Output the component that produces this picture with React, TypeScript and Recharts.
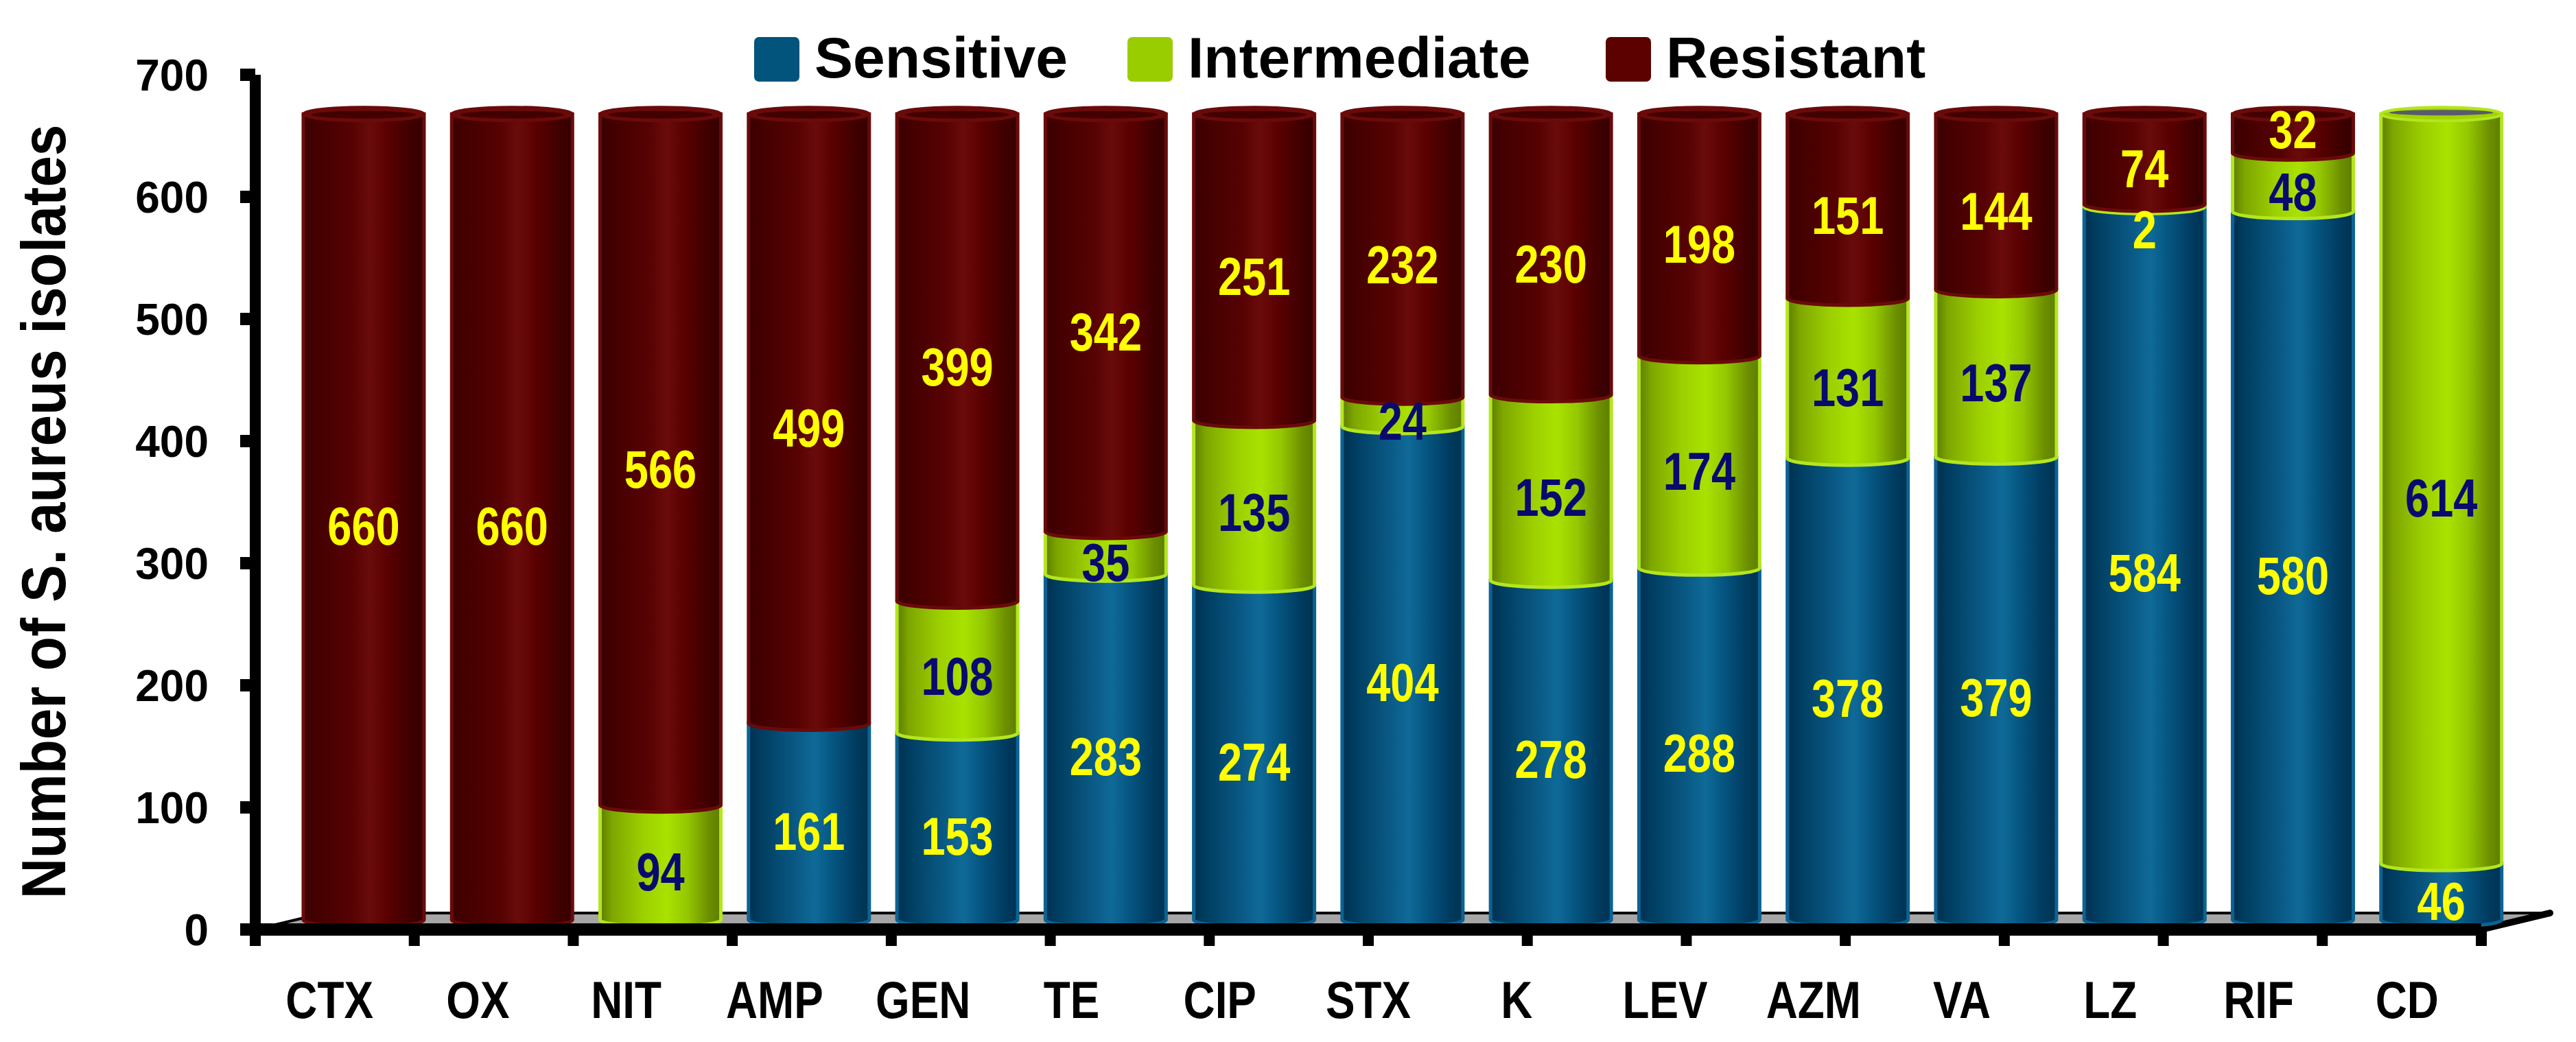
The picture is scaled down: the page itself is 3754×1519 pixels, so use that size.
import React from 'react';
import { BarChart, Bar, XAxis, YAxis, Legend, LabelList, ReferenceLine } from 'recharts';

const categories = ['CTX', 'OX', 'NIT', 'AMP', 'GEN', 'TE', 'CIP', 'STX', 'K', 'LEV', 'AZM', 'VA', 'LZ', 'RIF', 'CD'];
const sensitive = [0, 0, 0, 161, 153, 283, 274, 404, 278, 288, 378, 379, 584, 580, 46];
const intermediate = [0, 0, 94, 0, 108, 35, 135, 24, 152, 174, 131, 137, 2, 48, 614];
const resistant = [660, 660, 566, 499, 399, 342, 251, 232, 230, 198, 151, 144, 74, 32, 0];
const yTicks = [0, 100, 200, 300, 400, 500, 600, 700];
const boundaryTicks = [0, 1, 2, 3, 4, 5, 6, 7, 8, 9, 10, 11, 12, 13, 14, 15];
const seriesNames = ['Sensitive', 'Intermediate', 'Resistant'];

const data = categories.map((name, i) => ({
  name,
  sensitive: sensitive[i],
  intermediate: intermediate[i],
  resistant: resistant[i],
}));

const FONT = "'Liberation Sans', Arial, Helvetica, sans-serif";
const YELLOW = '#FFFF00';
const NAVY = '#0a0a6e';
const DX = 50;
const DY = -14;
const RY = 10;
const FLOOR_DX = 100;
const FLOOR_DY = -24;

const STYLE: Record<string, any> = {
  S: { grad: 'gS', rim: '#0b6393', cap: '#0b6090', inner: '#003a5a', base: '#02547d' },
  I: { grad: 'gI', rim: '#b4e61e', cap: '#9fd400', inner: '#5a5a6c', base: '#9acd00' },
  R: { grad: 'gR', rim: '#6a0a0a', cap: '#6a0a0a', inner: '#420000', base: '#5c0000' },
};

function Cyl(props: any) {
  const { x, y, width: w, height: h, payload, kind } = props;
  if (!(h > 0.01) || !(w > 0)) return <g />;
  const x0 = x + DX;
  const y0 = y + DY;
  const y1 = y + h + DY;
  const rx = w / 2;
  const cx = x0 + rx;
  const isTop =
    kind === 'R'
      ? true
      : kind === 'I'
      ? payload.resistant === 0
      : payload.intermediate === 0 && payload.resistant === 0;
  const st = STYLE[kind];
  const d = `M${x0},${y0} L${x0},${y1} A${rx},${RY} 0 0 0 ${x0 + w},${y1} L${x0 + w},${y0} Z`;
  return (
    <g>
      <path d={d} fill={`url(#${st.grad})`} stroke={st.rim} strokeWidth={5} />
      {isTop && (
        <g>
          <ellipse cx={cx} cy={y0} rx={rx} ry={RY} fill={st.cap} stroke={st.rim} strokeWidth={4} />
          <ellipse
            cx={cx}
            cy={kind === 'I' ? y0 - 2 : y0 + 1}
            rx={rx * 0.86}
            ry={kind === 'I' ? RY * 0.4 : RY * 0.55}
            fill={st.inner}
          />
        </g>
      )}
    </g>
  );
}

function ValLabel(props: any) {
  const vb = props.viewBox || props;
  const { value, kind } = props;
  if (!value) return null;
  const cx = vb.x + vb.width / 2 + DX;
  let cy = vb.y + vb.height / 2;
  // keep labels of very thin neighbouring segments apart
  if (vb.height < 20) cy += 22;
  else if (kind === 'R' && vb.height < 70) cy -= 19;
  const fill = kind === 'I' && value >= 10 ? NAVY : YELLOW;
  return (
    <text
      transform={`translate(${cx},${cy}) scale(0.82,1)`}
      textAnchor="middle"
      dominantBaseline="central"
      fontFamily={FONT}
      fontWeight={700}
      fontSize={77}
      fill={fill}
    >
      {value}
    </text>
  );
}

function CatTick(props: any) {
  const { x, y, payload } = props;
  return (
    <text
      transform={`translate(${x},${y + 128}) scale(0.84,1)`}
      textAnchor="middle"
      fontFamily={FONT}
      fontWeight={700}
      fontSize={76}
      fill="#000"
    >
      {payload.value}
    </text>
  );
}

function NoTick() {
  return <g />;
}

function YTitle(props: any) {
  const vb = props.viewBox || { x: 0, y: 109, width: 372, height: 1246 };
  const cy = vb.y + vb.height / 2 + 14;
  return (
    <text
      transform={`translate(${vb.x + 95},${cy}) rotate(-90) scale(0.91,1)`}
      textAnchor="middle"
      fontFamily={FONT}
      fontWeight={700}
      fontSize={90}
      fill="#000"
    >
      Number of S. aureus isolates
    </text>
  );
}

function Floor(props: any) {
  const { x1, y1, x2 } = props;
  if (x1 == null) return <g />;
  const pts = `${x1},${y1} ${x1 + FLOOR_DX},${y1 + FLOOR_DY} ${x2 + FLOOR_DX},${y1 + FLOOR_DY} ${x2},${y1}`;
  return (
    <g>
      <polygon points={pts} fill="#a6a6a6" stroke="#000" strokeWidth={4} />
      <line x1={x2} y1={y1} x2={x2 + FLOOR_DX} y2={y1 + FLOOR_DY} stroke="#000" strokeWidth={10} strokeLinecap="round" />
    </g>
  );
}

const ITEM_X = [0, 544, 1241];

function LegendContent(props: any) {
  const payload = props.payload || [];
  return (
    <div style={{ position: 'relative', width: 1720, height: 90 }}>
      {payload.map((p: any, i: number) => {
        const pos = seriesNames.indexOf(p.value);
        return (
          <div
            key={i}
            style={{
              position: 'absolute',
              left: ITEM_X[pos < 0 ? i : pos],
              top: 0,
              height: 90,
              display: 'flex',
              alignItems: 'center',
              whiteSpace: 'nowrap',
            }}
          >
            <div style={{ width: 66, height: 65, borderRadius: 7, background: p.color, marginTop: 4 }} />
            <span
              style={{
                marginLeft: 22,
                fontFamily: FONT,
                fontWeight: 700,
                fontSize: 84,
                lineHeight: '90px',
                color: '#000',
              }}
            >
              {p.value}
            </span>
          </div>
        );
      })}
    </div>
  );
}

export default function App() {
  return (
    <div style={{ position: 'absolute', left: 0, top: 0, width: 3754, height: 1519, background: '#fff' }}>
      <BarChart
        width={3754}
        height={1519}
        data={data}
        margin={{ top: 109, right: 138, bottom: 0, left: 0 }}
        barSize={176}
      >
        <defs>
          <linearGradient id="gR" x1="0" y1="0" x2="1" y2="0">
            <stop offset="0%" stopColor="#3a0000" />
            <stop offset="10%" stopColor="#430000" />
            <stop offset="40%" stopColor="#560202" />
            <stop offset="55%" stopColor="#6a0b0b" />
            <stop offset="70%" stopColor="#5a0000" />
            <stop offset="90%" stopColor="#3e0000" />
            <stop offset="100%" stopColor="#350000" />
          </linearGradient>
          <linearGradient id="gS" x1="0" y1="0" x2="1" y2="0">
            <stop offset="0%" stopColor="#003050" />
            <stop offset="10%" stopColor="#003d60" />
            <stop offset="40%" stopColor="#0a5a86" />
            <stop offset="55%" stopColor="#0f6a98" />
            <stop offset="70%" stopColor="#055581" />
            <stop offset="90%" stopColor="#003a5e" />
            <stop offset="100%" stopColor="#003352" />
          </linearGradient>
          <linearGradient id="gI" x1="0" y1="0" x2="1" y2="0">
            <stop offset="0%" stopColor="#5c7d00" />
            <stop offset="10%" stopColor="#7ea600" />
            <stop offset="35%" stopColor="#9ccf00" />
            <stop offset="55%" stopColor="#a9e200" />
            <stop offset="72%" stopColor="#95c800" />
            <stop offset="90%" stopColor="#6c8f00" />
            <stop offset="100%" stopColor="#5e7e00" />
          </linearGradient>
        </defs>
        <XAxis
          xAxisId="cat"
          dataKey="name"
          axisLine={false}
          tickLine={false}
          tickSize={0}
          tickMargin={0}
          height={163}
          interval={0}
          tick={<CatTick />}
        />
        <XAxis
          xAxisId="base"
          type="number"
          domain={[0, 15]}
          ticks={boundaryTicks}
          interval={0}
          tick={<NoTick />}
          tickSize={24}
          height={1}
          axisLine={{ stroke: '#000', strokeWidth: 18 }}
          tickLine={{ stroke: '#000', strokeWidth: 16 }}
          allowDataOverflow
        />
        <YAxis
          domain={[0, 700]}
          ticks={yTicks}
          interval={0}
          width={372}
          tickSize={22}
          tickMargin={46}
          axisLine={{ stroke: '#000', strokeWidth: 16 }}
          tickLine={{ stroke: '#000', strokeWidth: 18 }}
          tick={{ fontFamily: FONT, fontWeight: 700, fontSize: 64, fill: '#000' }}
          label={<YTitle />}
        />
        <Legend
          layout="horizontal"
          verticalAlign="middle"
          align="center"
          wrapperStyle={{ left: 1099, top: 39, width: 1720, height: 90 }}
          content={<LegendContent />}
        />
        <ReferenceLine y={0} xAxisId="base" shape={(p: any) => <Floor {...p} />} zIndex={50} />
        <Bar
          dataKey="sensitive"
          name={seriesNames[0]}
          stackId="a"
          xAxisId="cat"
          fill={STYLE.S.base}
          isAnimationActive={false}
          shape={(p: any) => <Cyl {...p} kind="S" />}
        >
          <LabelList dataKey="sensitive" content={(p: any) => <ValLabel {...p} kind="S" />} />
        </Bar>
        <Bar
          dataKey="intermediate"
          name={seriesNames[1]}
          stackId="a"
          xAxisId="cat"
          fill={STYLE.I.base}
          isAnimationActive={false}
          shape={(p: any) => <Cyl {...p} kind="I" />}
        >
          <LabelList dataKey="intermediate" content={(p: any) => <ValLabel {...p} kind="I" />} />
        </Bar>
        <Bar
          dataKey="resistant"
          name={seriesNames[2]}
          stackId="a"
          xAxisId="cat"
          fill={STYLE.R.base}
          isAnimationActive={false}
          shape={(p: any) => <Cyl {...p} kind="R" />}
        >
          <LabelList dataKey="resistant" content={(p: any) => <ValLabel {...p} kind="R" />} />
        </Bar>
      </BarChart>
    </div>
  );
}
